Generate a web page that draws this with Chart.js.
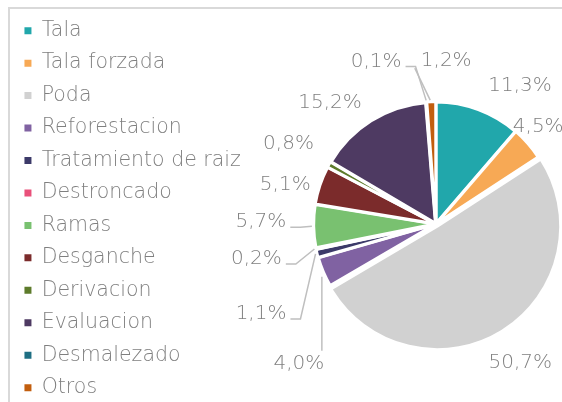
<!DOCTYPE html>
<html>
<head>
<meta charset="utf-8">
<script src="https://cdn.jsdelivr.net/npm/chart.js@4.4.1/dist/chart.umd.min.js"></script>
<style>
  html, body { margin: 0; padding: 0; background: #fff; overflow: hidden; width: 562px; height: 402px; }
  #frame { position: absolute; left: 8px; top: 7px; width: 700px; height: 500px;
           border-left: 2px solid #d9d9d9; border-top: 2px solid #d9d9d9; }
  #chart { position: absolute; left: 0; top: 0; }
</style>
</head>
<body>
<div id="frame"></div>
<canvas id="chart" width="640" height="444" style="width:640px;height:444px"></canvas>
<script>
// Data
const categories = ['Tala', 'Tala forzada', 'Poda', 'Reforestacion', 'Tratamiento de raiz',
    'Destroncado', 'Ramas', 'Desganche', 'Derivacion', 'Evaluacion', 'Desmalezado', 'Otros'];
const shares = [11.3, 4.5, 50.7, 4.0, 1.1, 0.2, 5.7, 5.1, 0.8, 15.2, 0.1, 1.2];

const sliceColors = ['#21a7ab', '#f7a955', '#d1d1d1', '#8062a2', '#3c3a69', '#e9507a',
    '#79c170', '#7b2b2b', '#5d7b2b', '#4e3a62', '#1f6f83', '#c25e0e'];
const sliceOffsets = [3, 3, 10, 3, 3, 3, 3, 3, 3, 3, 3, 3];

// where each percentage label sits, relative to the outer edge of its slice
const labelOffsets = [
    { dx: 41, dy: -22 },
    { dx: 9, dy: -16 },
    { dx: 15.5, dy: 27.5 },
    { dx: -23, dy: 91, leader: 'vertical' },
    { dx: -54.5, dy: 60, leader: 'elbow' },
    { dx: -58, dy: 10, leader: 'elbow' },
    { dx: -51, dy: -4, leader: 'elbow' },
    { dx: -33, dy: 0 },
    { dx: -39, dy: -20 },
    { dx: -40, dy: -16 },
    { dx: -50, dy: -39, leader: 'elbow' },
    { dx: 15, dy: -39, leader: 'direct' }
];

const FONT = '"DejaVu Sans", sans-serif';
const TEXT_GRAY = '#7f7f7f';

const pieLabels = {
    id: 'pieLabels',
    afterDatasetsDraw(chart) {
        const ctx = chart.ctx;
        const meta = chart.getDatasetMeta(0);
        ctx.save();
        ctx.font = '200 20px ' + FONT;
        ctx.textAlign = 'center';
        ctx.textBaseline = 'middle';
        ctx.strokeStyle = '#bfbfbf';
        ctx.lineWidth = 1.5;

        meta.data.forEach((arc, i) => {
            const mid = (arc.startAngle + arc.endAngle) / 2;
            const r = arc.outerRadius + arc.options.offset;
            const ax = arc.x + Math.cos(mid) * r;
            const ay = arc.y + Math.sin(mid) * r;
            const pos = labelOffsets[i];
            const lx = ax + pos.dx;
            const ly = ay + pos.dy;
            const text = shares[i].toFixed(1).replace('.', ',') + '%';
            const w = ctx.measureText(text).width;

            if (pos.leader) {
                ctx.beginPath();
                if (pos.leader === 'elbow') {
                    const sx = lx + w / 2 + 4;
                    ctx.moveTo(sx, ly + 5);
                    ctx.lineTo(sx + 10, ly + 5);
                    ctx.lineTo(ax, ay);
                } else if (pos.leader === 'vertical') {
                    ctx.moveTo(ax, ay + 4);
                    ctx.lineTo(ax, ly - 13);
                } else if (pos.leader === 'direct') {
                    ctx.moveTo(lx - w / 2 - 6, ly + 7);
                    ctx.lineTo(ax - 1, ay);
                }
                ctx.stroke();
            }

            ctx.fillStyle = TEXT_GRAY;
            ctx.fillText(text, lx, ly);
        });
        ctx.restore();
    }
};

const ctx = document.getElementById('chart').getContext('2d');
const chart = new Chart(ctx, {
    type: 'pie',
    data: {
        labels: categories,
        datasets: [{
            data: shares,
            backgroundColor: sliceColors,
            borderColor: '#ffffff',
            borderWidth: 3,
            offset: sliceOffsets
        }]
    },
    options: {
        responsive: false,
        animation: false,
        radius: 121,
        layout: {
            padding: { left: 12.5, top: 8.5, right: 19, bottom: 4.5 }
        },
        plugins: {
            legend: {
                position: 'left',
                align: 'start',
                labels: {
                    boxWidth: 7,
                    boxHeight: 7,
                    padding: 11.95,
                    color: TEXT_GRAY,
                    font: { family: FONT, size: 20.5, weight: 200 },
                    generateLabels(chart) {
                        const items = Chart.overrides.pie.plugins.legend.labels.generateLabels(chart);
                        items.forEach(item => { item.lineWidth = 0; });
                        return items;
                    }
                }
            },
            tooltip: { enabled: false }
        },
        events: []
    },
    plugins: [pieLabels]
});
</script>
</body>
</html>
